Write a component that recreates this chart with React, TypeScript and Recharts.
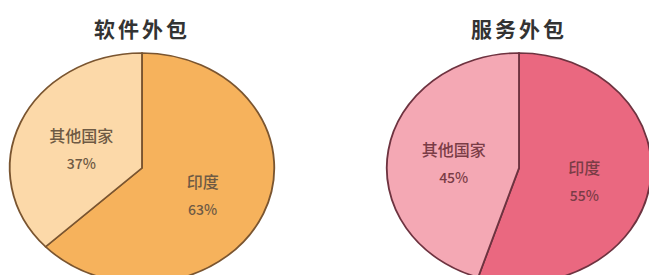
import { PieChart, Pie, Cell, Sector } from 'recharts'

// Data
const categories = ['印度', '其他国家']
const softwareShares = [63, 37]
const serviceShares = [55, 45]
const chartTitles = ['软件外包', '服务外包']

// Palette
const SOFTWARE_COLORS = ['#F6B25C', '#FCD9A9']
const SERVICE_COLORS = ['#EA6880', '#F4A8B4']

const FONT = '"Noto Sans CJK SC", "Noto Sans", sans-serif'
const SX = 1.15 // pies are drawn slightly wider than tall
const RAD = Math.PI / 180

const buildData = (shares: number[]) =>
  categories.map((name, i) => ({ name, value: shares[i] }))

const ovalShape = (stroke: string) => (props: any) => {
  const { cx, cy } = props
  return (
    <g transform={`translate(${cx} ${cy}) scale(${SX} 1) translate(${-cx} ${-cy})`}>
      <Sector {...props} stroke={stroke} strokeWidth={1.6} />
    </g>
  )
}

const makeLabel = (color: string) => (props: any) => {
  const { cx, cy, midAngle, outerRadius, name, value } = props
  const r = outerRadius * 0.5
  const x = cx + r * Math.cos(-midAngle * RAD) * SX
  const y = cy + r * Math.sin(-midAngle * RAD) + 4
  return (
    <g>
      <text x={x} y={y - 14} textAnchor="middle" dominantBaseline="central"
        fontFamily={FONT} fontSize={16} fontWeight={500} fill={color}>
        {name}
      </text>
      <text x={x} y={y + 14} textAnchor="middle" dominantBaseline="central"
        fontFamily={FONT} fontSize={14} fontWeight={500} fill={color}>
        {value}%
      </text>
    </g>
  )
}

interface OvalPieProps {
  title: string
  shares: number[]
  colors: string[]
  stroke: string
  textColor: string
  cx: number
}

function OvalPie({ title, shares, colors, stroke, textColor, cx }: OvalPieProps) {
  const data = buildData(shares)
  return (
    <div style={{ position: 'relative', width: 325, height: 275 }}>
      <div
        style={{
          position: 'absolute',
          left: cx - 80,
          width: 160,
          top: 14,
          textAlign: 'center',
          fontFamily: FONT,
          fontWeight: 700,
          fontSize: 21,
          letterSpacing: 3,
          color: '#333',
          lineHeight: '28px',
        }}
      >
        {title}
      </div>
      <PieChart width={325} height={275} margin={{ top: 0, right: 0, bottom: 0, left: 0 }}>
        <Pie
          data={data}
          dataKey="value"
          nameKey="name"
          cx={cx}
          cy={168}
          outerRadius={115}
          startAngle={90}
          endAngle={-270}
          isAnimationActive={false}
          labelLine={false}
          label={makeLabel(textColor)}
          shape={ovalShape(stroke)}
        >
          {data.map((_, i) => (
            <Cell key={`cell-${i}`} fill={colors[i]} />
          ))}
        </Pie>
      </PieChart>
    </div>
  )
}

export default function App() {
  return (
    <div
      style={{
        position: 'absolute',
        left: 0,
        top: 0,
        width: 649,
        height: 275,
        overflow: 'hidden',
        background: '#fff',
        display: 'flex',
      }}
    >
      <OvalPie
        title={chartTitles[0]}
        shares={softwareShares}
        colors={SOFTWARE_COLORS}
        stroke="#7a5530"
        textColor="#6e5a44"
        cx={142}
      />
      <OvalPie
        title={chartTitles[1]}
        shares={serviceShares}
        colors={SERVICE_COLORS}
        stroke="#6e3340"
        textColor="#7a3c46"
        cx={194}
      />
    </div>
  )
}
